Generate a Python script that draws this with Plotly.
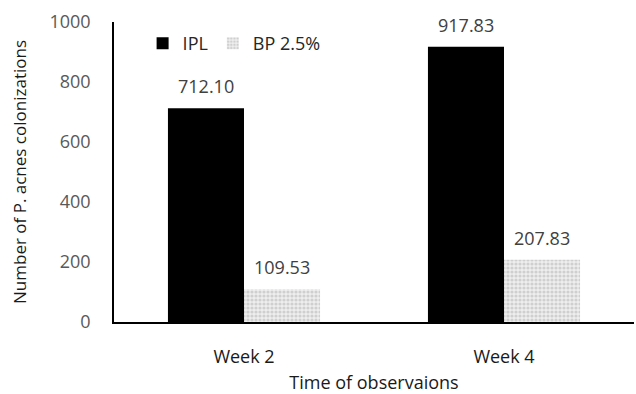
import plotly.graph_objects as go

categories = ["Week 2", "Week 4"]
ipl_values = [712.10, 917.83]
bp_values = [109.53, 207.83]
series_names = ["IPL", "BP 2.5%"]
y_ticks = [0, 200, 400, 600, 800, 1000]

font_family = "Open Sans, Liberation Sans, sans-serif"

fig = go.Figure()
fig.add_trace(go.Bar(
    x=categories, y=ipl_values, name=series_names[0],
    marker=dict(color="#000000", line=dict(width=0)),
))
fig.add_trace(go.Bar(
    x=categories, y=bp_values, name=series_names[1],
    marker=dict(
        color="#e6e6e6", line=dict(width=0),
        pattern=dict(shape=".", fgcolor="#cfcfcf", bgcolor="#efefef",
                     size=4, solidity=0.5, fillmode="replace"),
    ),
))

# value labels above each bar
for vals, off in ((ipl_values, -0.145), (bp_values, 0.145)):
    for i, v in enumerate(vals):
        fig.add_annotation(
            x=i + off, y=v, xref="x", yref="y", text=f"{v:.2f}",
            showarrow=False, yshift=22,
            font=dict(family=font_family, size=18, color="#404040"),
        )

fig.update_layout(
    width=636, height=394,
    margin=dict(l=114, r=2, t=22, b=72),
    paper_bgcolor="white", plot_bgcolor="white",
    barmode="group", bargap=0.415, bargroupgap=0,
    font=dict(family=font_family, size=18, color="#595959"),
    showlegend=True,
    legend=dict(
        orientation="h", x=0.055, y=0.99, xanchor="left", yanchor="top",
        font=dict(family=font_family, size=18, color="#262626"),
        bgcolor="rgba(0,0,0,0)", itemwidth=30,
    ),
    xaxis=dict(
        type="category", range=[-0.5, 1.5],
        showline=True, linecolor="#000000", linewidth=1.5,
        ticks="", showgrid=False,
        ticklabelstandoff=18,
        tickfont=dict(family=font_family, size=18, color="#1a1a1a"),
        title=dict(text="Time of observaions", standoff=9,
                   font=dict(family=font_family, size=18, color="#1a1a1a")),
    ),
    yaxis=dict(
        range=[0, 1000], tickvals=y_ticks,
        showline=True, linecolor="#000000", linewidth=1.5,
        ticks="", showgrid=False, zeroline=False,
        ticklabelstandoff=18,
        tickfont=dict(family=font_family, size=18, color="#595959"),
        title=dict(text="Number of P. acnes colonizations", standoff=19,
                   font=dict(family=font_family, size=17, color="#1a1a1a")),
    ),
)

fig.write_html("out.html")
